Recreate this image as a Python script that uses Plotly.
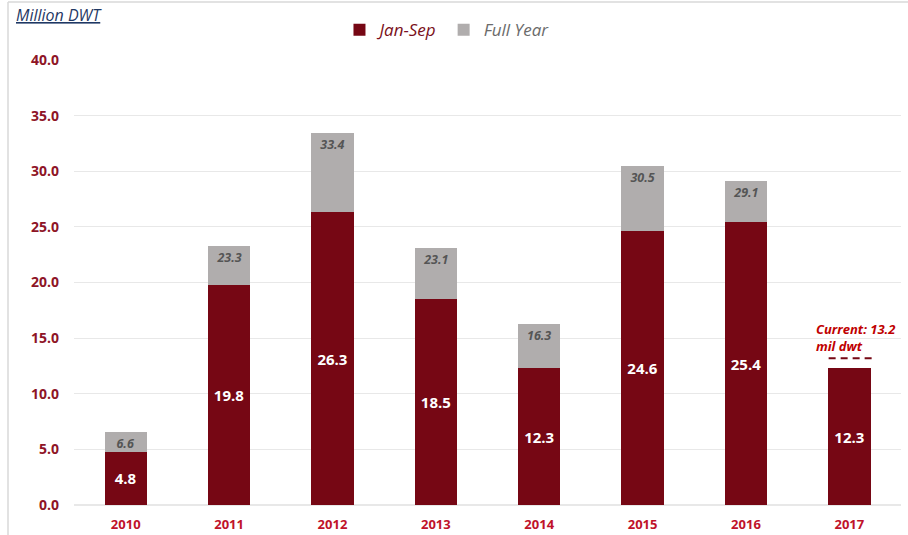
import plotly.graph_objects as go

years = ["2010", "2011", "2012", "2013", "2014", "2015", "2016", "2017"]
jan_sep = [4.8, 19.8, 26.3, 18.5, 12.3, 24.6, 25.4, 12.3]
full_year = [6.6, 23.3, 33.4, 23.1, 16.3, 30.5, 29.1, None]
current_value = 13.2
y_ticks = [0, 5, 10, 15, 20, 25, 30, 35, 40]

RED = "#760714"
GRAY = "#b0adad"
TICK_RED = "#8e1426"

remainder = [(f - j) if f is not None else None for f, j in zip(full_year, jan_sep)]
full_text = [f"<i><b>{f:.1f}</b></i>" if f is not None else "" for f in full_year]
js_text = [f"<b>{v:.1f}</b>" for v in jan_sep]

fig = go.Figure()
fig.add_trace(go.Bar(
    x=years, y=jan_sep, name="<i><span style='color:#7a1020'>Jan-Sep</span></i>",
    marker=dict(color=RED, line=dict(width=0)),
    text=js_text, textposition="inside", insidetextanchor="middle",
    textfont=dict(color="white", size=15, family="Open Sans"),
    constraintext="none",
    width=0.41,
))
fig.add_trace(go.Bar(
    x=years, y=remainder, name="<i><span style='color:#6b6b6b'>Full Year</span></i>",
    marker=dict(color=GRAY, line=dict(width=0)),
    text=full_text, textposition="inside", insidetextanchor="end",
    textfont=dict(color="#555555", size=12.5, family="Open Sans"),
    constraintext="none",
    width=0.41,
))

fig.add_shape(type="line", xref="x", yref="y", x0=7 - 0.2, x1=7 + 0.25,
              y0=current_value, y1=current_value,
              line=dict(color=RED, width=2, dash="7px,5px"))
fig.add_annotation(x=7, y=current_value, xref="x", yref="y",
                   text="<b><i>Current: 13.2<br>mil dwt</i></b>",
                   showarrow=False, xanchor="left", yanchor="bottom",
                   xshift=-35, yshift=1, align="left",
                   font=dict(color="#c00000", size=13, family="Open Sans"))

fig.add_annotation(x=-0.0725, y=1.101, xref="paper", yref="paper",
                   text="<i><u>Million DWT</u></i>", showarrow=False,
                   xanchor="left", yanchor="middle",
                   font=dict(color="#1f3864", size=16, family="Open Sans"))

# chart border
fig.add_shape(type="line", xref="paper", yref="paper", x0=-0.0798, x1=-0.0798,
              y0=1.1303, y1=-0.1, line=dict(color="#d9d9d9", width=1.5))
fig.add_shape(type="line", xref="paper", yref="paper", x0=-0.0798, x1=1.02,
              y0=1.1303, y1=1.1303, line=dict(color="#d9d9d9", width=1.5))

fig.update_layout(
    width=908, height=535,
    margin=dict(l=74, r=7, t=60, b=30),
    barmode="stack",
    plot_bgcolor="white", paper_bgcolor="white",
    showlegend=True,
    legend=dict(orientation="h", traceorder="normal",
                x=0.451, xanchor="center", y=1.067, yanchor="middle",
                font=dict(size=17, family="Open Sans", color="#666666"),
                itemwidth=30, tracegroupgap=0),
    font=dict(family="Open Sans"),
)
fig.update_xaxes(type="category", tickvals=years, ticktext=[f"<b>{y}</b>" for y in years],
                 tickfont=dict(color="#c0122a", size=13, family="Open Sans"),
                 ticklabelstandoff=10, showgrid=False, showline=False, automargin=False)
fig.update_yaxes(range=[0, 40], tickvals=y_ticks, ticktext=[f"<b>{v:.1f}</b>" for v in y_ticks],
                 tickfont=dict(color=TICK_RED, size=14, family="Open Sans"),
                 showgrid=True, gridcolor="#e8e8e8", gridwidth=1, automargin=False,
                 zeroline=True, zerolinecolor="#e8e8e8", ticklabelstandoff=14)

fig.write_html("out.html")
